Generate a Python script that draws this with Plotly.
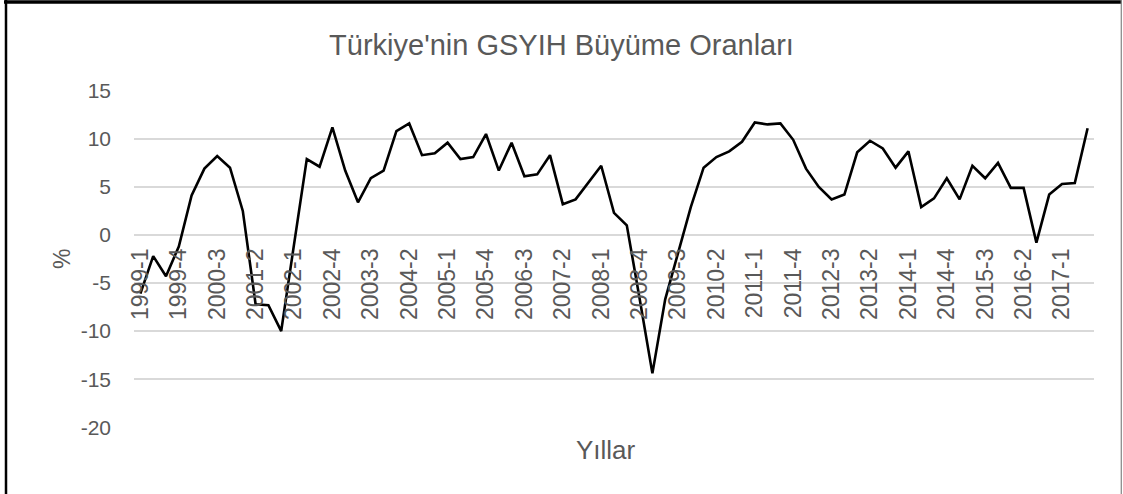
import plotly.graph_objects as go

years = list(range(1999, 2018))
quarters = [f"{y}-{q}" for y in years for q in range(1, 5)][:75]

growth = [
    -6.1, -2.2, -4.3, -1.2, 4.1, 6.9, 8.2, 7.0, 2.5, -7.2,
    -7.3, -10.0, -1.0, 7.9, 7.1, 11.2, 6.7, 3.4, 5.9, 6.7,
    10.8, 11.6, 8.3, 8.5, 9.6, 7.9, 8.1, 10.5, 6.7, 9.6,
    6.1, 6.3, 8.3, 3.2, 3.7, 5.5, 7.2, 2.3, 1.0, -6.6,
    -14.4, -6.7, -1.9, 2.9, 7.0, 8.1, 8.7, 9.7, 11.7, 11.5,
    11.6, 9.9, 6.9, 5.0, 3.7, 4.2, 8.6, 9.8, 9.0, 7.0,
    8.7, 2.9, 3.8, 5.9, 3.7, 7.2, 5.9, 7.5, 4.9, 4.9,
    -0.8, 4.2, 5.3, 5.4, 11.1,
]

tick_labels = ["1999-1", "1999-4", "2000-3", "2001-2", "2002-1", "2002-4",
               "2003-3", "2004-2", "2005-1", "2005-4", "2006-3", "2007-2",
               "2008-1", "2008-4", "2009-3", "2010-2", "2011-1", "2011-4",
               "2012-3", "2013-2", "2014-1", "2014-4", "2015-3", "2016-2",
               "2017-1"]
y_ticks = [15, 10, 5, 0, -5, -10, -15, -20]
y_tick_text = ["15", "10", "5", "0", "-5", "-10", "-15", "-20"]

title_text = "Türkiye'nin GSYIH Büyüme Oranları"
x_title = "Yıllar"
y_title = "%"

FONT = "Liberation Sans, Arial, sans-serif"
GRAY = "#595959"

W, H = 1123, 494
L, R, T, B = 134, 29, 90, 66
pw, ph = W - L - R, H - T - B

def px(xp):
    return (xp - L) / pw

def py(yp):
    return (H - B - yp) / ph

fig = go.Figure()
fig.add_trace(go.Scatter(
    x=quarters, y=growth, mode="lines",
    line=dict(color="black", width=2.6),
    hoverinfo="x+y", showlegend=False,
))

ymin, ymax = -20, 15
fig.update_layout(
    width=W, height=H,
    margin=dict(l=L, r=R, t=T, b=B, pad=0),
    paper_bgcolor="white", plot_bgcolor="white",
    font=dict(family=FONT, color=GRAY),
    title=dict(text=title_text, x=0.5, xanchor="center", xref="container",
               y=1 - 45 / H, yanchor="middle", yref="container",
               font=dict(size=29, color=GRAY, family=FONT)),
    xaxis=dict(
        type="category", categoryorder="array", categoryarray=quarters,
        range=[-0.5, len(quarters) - 0.5],
        tickmode="array", tickvals=tick_labels, ticktext=tick_labels,
        tickangle=-90, tickfont=dict(size=23, color=GRAY, family=FONT),
        showgrid=False, showline=False, zeroline=False, ticks="",
        anchor="free", position=(0 - ymin) / (ymax - ymin),
        ticklabelstandoff=8,
    ),
    yaxis=dict(
        range=[ymin - 0.08, ymax + 0.08],
        tickmode="array", tickvals=y_ticks, ticktext=y_tick_text,
        tickfont=dict(size=21, color=GRAY, family=FONT),
        showgrid=True, gridcolor="#d9d9d9", gridwidth=1.6,
        zeroline=False, showline=False, ticks="",
        ticklabelstandoff=22,
    ),
    annotations=[
        dict(text=x_title, x=px(606), y=py(450), xref="paper", yref="paper",
             xanchor="center", yanchor="middle", showarrow=False,
             font=dict(size=26, color=GRAY, family=FONT)),
        dict(text=y_title, x=px(62), y=0.5, xref="paper", yref="paper",
             xanchor="center", yanchor="middle", showarrow=False, textangle=-90,
             font=dict(size=23, color=GRAY, family=FONT)),
    ],
    shapes=[
        dict(type="line", xref="paper", yref="paper", x0=px(6), x1=px(6),
             y0=py(0), y1=py(H + 5), line=dict(color="black", width=2.5),
             layer="above"),
        dict(type="line", xref="paper", yref="paper", x0=px(4), x1=px(1122),
             y0=py(2), y1=py(2), line=dict(color="black", width=3.5),
             layer="above"),
        dict(type="line", xref="paper", yref="paper", x0=px(1121.3), x1=px(1121.3),
             y0=py(0), y1=py(H + 5), line=dict(color="#8c8c8c", width=1.3),
             layer="above"),
    ],
)

fig.write_html("out.html",
               config={"displayModeBar": False},
               post_script="document.body.style.margin='0';document.body.style.overflow='hidden';")
